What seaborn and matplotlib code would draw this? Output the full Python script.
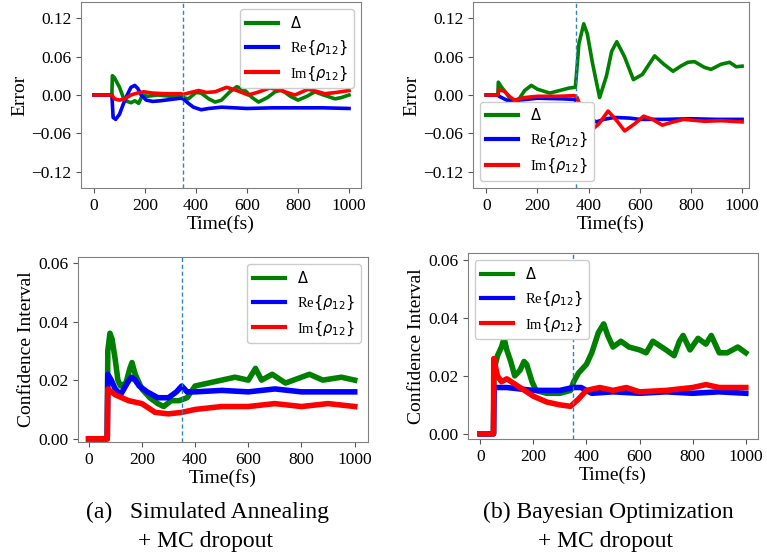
import matplotlib
matplotlib.use("Agg")
import matplotlib.pyplot as plt
import seaborn as sns
from matplotlib.ticker import FuncFormatter

plt.rcParams['font.family'] = ['Liberation Serif', 'DejaVu Serif']
plt.rcParams['mathtext.fontset'] = 'dejavusans'
plt.rcParams['axes.unicode_minus'] = True

labels = [r'$\Delta$', r'Re$\{\rho_{12}\}$', r'Im$\{\rho_{12}\}$']
colors = ['green', 'blue', 'red']

# ---- (a) Simulated Annealing: Error ----
t_a_delta = [0, 70, 72, 80, 100, 115, 130, 145, 160, 175, 190, 210, 250, 300, 340, 350, 370, 400, 420, 450,
             475, 500, 530, 560, 590, 620, 645, 680, 710, 736, 770, 800, 835, 866, 900, 945, 970, 1000]
v_a_delta = [0, 0, 0.030, 0.027, 0.012, -0.004, -0.010, -0.012, -0.009, -0.013, 0.0, -0.002, 0.0, -0.002, -0.003,
             -0.004, -0.006, 0.004, 0.003, -0.006, -0.011, -0.008, 0.004, 0.013, 0.008, -0.004, -0.011, -0.004,
             0.005, 0.008, -0.002, -0.008, -0.002, 0.005, 0.0, -0.006, -0.004, 0.0]
t_a_re = [0, 70, 75, 85, 100, 115, 130, 145, 160, 172, 185, 205, 230, 260, 300, 340, 350, 370, 390, 420, 450,
          500, 550, 600, 700, 800, 900, 1000]
v_a_re = [0, 0, -0.035, -0.038, -0.030, -0.014, 0.0, 0.012, 0.015, 0.010, 0.0, -0.008, -0.010, -0.009, -0.007,
          -0.005, -0.006, -0.013, -0.019, -0.023, -0.021, -0.019, -0.020, -0.021, -0.020, -0.020, -0.020, -0.021]
t_a_im = [0, 70, 80, 100, 120, 145, 170, 195, 230, 280, 340, 350, 380, 410, 440, 475, 520, 560, 605, 640, 690,
          740, 788, 839, 870, 905, 950, 1000]
v_a_im = [0, 0, -0.006, -0.008, -0.006, 0.0, 0.003, 0.005, 0.003, 0.002, 0.002, 0.001, 0.004, 0.007, 0.004,
          0.005, 0.012, 0.007, 0.0, 0.004, 0.011, 0.006, 0.0, 0.009, 0.006, 0.002, 0.004, 0.007]

# ---- (b) Bayesian Optimization: Error ----
t_b_delta = [0, 45, 47, 60, 80, 104, 130, 150, 176, 200, 248, 287, 326, 348, 352, 362, 381, 395, 415, 443, 470,
             490, 510, 540, 575, 610, 658, 694, 730, 760, 788, 814, 853, 879, 918, 951, 977, 1000]
v_b_delta = [0, 0, 0.020, 0.012, 0.002, -0.013, -0.005, 0.007, 0.015, 0.009, 0.003, 0.007, 0.011, 0.012, 0.030,
             0.080, 0.111, 0.095, 0.050, -0.004, 0.030, 0.068, 0.083, 0.060, 0.024, 0.032, 0.061, 0.048, 0.037,
             0.045, 0.051, 0.052, 0.043, 0.040, 0.048, 0.051, 0.044, 0.045]
t_b_re = [0, 45, 50, 80, 100, 130, 200, 300, 345, 360, 380, 400, 430, 460, 500, 560, 600, 700, 800, 900, 1000]
v_b_re = [0, 0, -0.002, -0.008, -0.010, -0.008, -0.005, -0.006, -0.007, -0.015, -0.025, -0.035, -0.042, -0.038,
          -0.035, -0.036, -0.038, -0.038, -0.037, -0.038, -0.038]
t_b_im = [0, 45, 50, 70, 90, 110, 150, 200, 280, 345, 355, 370, 390, 411, 440, 476, 510, 541, 580, 615, 650,
          688, 730, 772, 853, 918, 1000]
v_b_im = [0, 0, 0.008, 0.006, -0.002, -0.008, -0.004, -0.002, -0.002, -0.001, -0.004, -0.020, -0.042, -0.055,
          -0.045, -0.025, -0.040, -0.056, -0.045, -0.033, -0.038, -0.047, -0.042, -0.038, -0.041, -0.040, -0.042]

# ---- (a) Simulated Annealing: Confidence Interval ----
t_c_delta = [0, 70, 72, 80, 88, 100, 110, 120, 140, 155, 163, 175, 200, 230, 260, 282, 310, 340, 370, 400, 450,
             500, 550, 600, 627, 650, 690, 740, 800, 830, 880, 950, 1000]
v_c_delta = [0, 0, 0.030, 0.036, 0.034, 0.027, 0.020, 0.018, 0.019, 0.024, 0.026, 0.022, 0.017, 0.014, 0.012,
             0.011, 0.013, 0.013, 0.014, 0.018, 0.019, 0.020, 0.021, 0.020, 0.024, 0.020, 0.022, 0.019, 0.021,
             0.022, 0.020, 0.021, 0.020]
t_c_re = [0, 70, 72, 85, 100, 120, 145, 160, 175, 190, 220, 260, 300, 330, 350, 370, 400, 500, 600, 700, 800,
          900, 1000]
v_c_re = [0, 0, 0.022, 0.020, 0.017, 0.015, 0.019, 0.021, 0.020, 0.018, 0.016, 0.014, 0.014, 0.016, 0.018,
          0.016, 0.016, 0.0165, 0.016, 0.017, 0.016, 0.016, 0.016]
t_c_im = [0, 70, 72, 100, 150, 200, 250, 300, 350, 400, 500, 600, 700, 800, 900, 1000]
v_c_im = [0, 0, 0.017, 0.015, 0.013, 0.012, 0.009, 0.0085, 0.009, 0.010, 0.011, 0.011, 0.012, 0.011, 0.012, 0.011]

# ---- (b) Bayesian Optimization: Confidence Interval ----
t_d_delta = [0, 50, 52, 65, 80, 90, 100, 115, 130, 150, 165, 175, 195, 210, 250, 300, 340, 352, 370, 400, 420,
             445, 465, 480, 500, 530, 560, 600, 625, 650, 700, 730, 750, 764, 790, 820, 850, 870, 900, 930, 970, 1000]
v_d_delta = [0, 0, 0.022, 0.027, 0.030, 0.033, 0.029, 0.025, 0.020, 0.022, 0.025, 0.024, 0.018, 0.015, 0.014,
             0.014, 0.015, 0.018, 0.021, 0.024, 0.028, 0.035, 0.038, 0.034, 0.030, 0.032, 0.030, 0.029, 0.028,
             0.032, 0.029, 0.027, 0.032, 0.034, 0.029, 0.033, 0.031, 0.034, 0.028, 0.028, 0.030, 0.028]
t_d_re = [0, 50, 52, 100, 200, 300, 350, 380, 420, 500, 600, 700, 800, 900, 1000]
v_d_re = [0, 0, 0.016, 0.016, 0.015, 0.015, 0.016, 0.016, 0.014, 0.0145, 0.014, 0.0145, 0.014, 0.0145, 0.014]
t_d_im = [0, 50, 51, 65, 80, 100, 150, 200, 250, 300, 340, 370, 400, 450, 500, 550, 600, 700, 800, 850, 900, 1000]
v_d_im = [0, 0, 0.026, 0.020, 0.018, 0.019, 0.016, 0.013, 0.011, 0.010, 0.0095, 0.012, 0.015, 0.016, 0.015,
          0.016, 0.0145, 0.015, 0.016, 0.017, 0.016, 0.016]

err_ticks = [-0.12, -0.06, 0.0, 0.06, 0.12]
ci_ticks = [0.0, 0.02, 0.04, 0.06]
x_ticks = [0, 200, 400, 600, 800, 1000]

fig = plt.figure(figsize=(7.67, 5.59), dpi=100)
W, H = 767, 559


def add_ax(l, r, t, b):
    return fig.add_axes([l / W, 1 - b / H, (r - l) / W, (b - t) / H])


def yfmt(v, pos):
    s = '%.2f' % v
    if s == '-0.00':
        s = '0.00'
    return s.replace('-', '\u2212')


panels = [
    dict(box=(81, 361, 2, 188), series=[(t_a_delta, v_a_delta), (t_a_re, v_a_re), (t_a_im, v_a_im)],
         ylab='Error', yt=err_ticks, ylim=(-0.145, 0.145), xlim=(-51, 1047), loc='upper right', lw=2.6),
    dict(box=(473, 749, 2, 188), series=[(t_b_delta, v_b_delta), (t_b_re, v_b_re), (t_b_im, v_b_im)],
         ylab='Error', yt=err_ticks, ylim=(-0.145, 0.145), xlim=(-52, 1027), loc='lower left', lw=2.6),
    dict(box=(78, 368, 257, 442), series=[(t_c_delta, v_c_delta), (t_c_re, v_c_re), (t_c_im, v_c_im)],
         ylab='Confidence Interval', yt=ci_ticks, ylim=(-0.0011, 0.062), xlim=(-40, 1050), loc='upper right', lw=4.0),
    dict(box=(468, 758, 253, 439), series=[(t_d_delta, v_d_delta), (t_d_re, v_d_re), (t_d_im, v_d_im)],
         ylab='Confidence Interval', yt=ci_ticks, ylim=(-0.0018, 0.0625), xlim=(-46, 1046), loc='upper left', lw=4.0),
]

for p in panels:
    ax = add_ax(*p['box'])
    for (tt, vv), lab, col in zip(p['series'], labels, colors):
        sns.lineplot(x=tt, y=vv, color=col, label=lab, lw=p['lw'], ax=ax)
    ax.axvline(350, color='#2f84bd', lw=1.0, ls='--', dashes=(3, 2))
    ax.set_xlim(*p['xlim'])
    ax.set_ylim(*p['ylim'])
    ax.set_xticks(x_ticks)
    ax.set_yticks(p['yt'])
    ax.yaxis.set_major_formatter(FuncFormatter(yfmt))
    ax.tick_params(labelsize=12.5, color='#555555', length=3.5)
    for s in ax.spines.values():
        s.set_color('#808080')
    ax.set_xlabel('Time(fs)', fontsize=14, labelpad=1)
    ax.set_ylabel(p['ylab'], fontsize=14, labelpad=2)
    leg = ax.legend(loc=p['loc'], fontsize=10.5, framealpha=1.0, handlelength=2.2)
    for ln in leg.get_lines():
        ln.set_linewidth(3)

fig.text(208 / W, 1 - 512 / H, '(a)   Simulated Annealing', ha='center', va='center', fontsize=17)
fig.text(206 / W, 1 - 542 / H, '+ MC dropout', ha='center', va='center', fontsize=17)
fig.text(608 / W, 1 - 512 / H, '(b) Bayesian Optimization', ha='center', va='center', fontsize=17)
fig.text(605 / W, 1 - 542 / H, '+ MC dropout', ha='center', va='center', fontsize=17)

fig.savefig('out.png', dpi=100)
